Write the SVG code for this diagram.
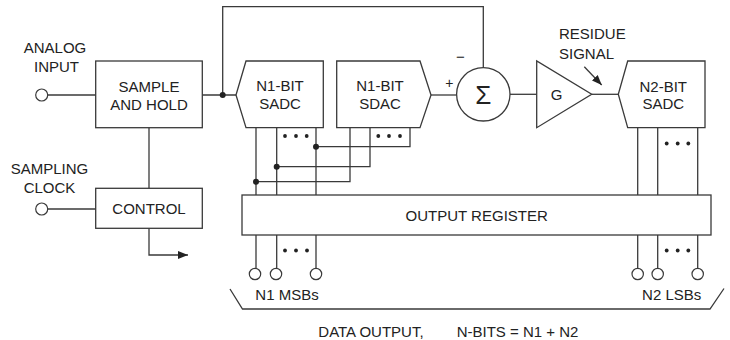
<svg xmlns="http://www.w3.org/2000/svg" width="730" height="340" viewBox="0 0 730 340">
<defs>
<style>
.ln{fill:none;stroke:#3a3a3a;stroke-width:1.3}
.bx{fill:#fff;stroke:#3a3a3a;stroke-width:1.3}
.pin{fill:#fff;stroke:#3a3a3a;stroke-width:1.2}
.jd{fill:#222}
.t{font-family:"Liberation Sans",Arial,sans-serif;font-size:15px;fill:#222;text-anchor:middle}
</style>
<marker id="ah" viewBox="0 0 10 8" refX="10" refY="4" markerWidth="10" markerHeight="8" markerUnits="userSpaceOnUse" orient="auto">
<path d="M0,0 L10,4 L0,8 Z" fill="#222"/>
</marker>
</defs>
<rect width="730" height="340" fill="#fff"/>

<g id="connectors">
<!-- analog input -->
<line class="ln" x1="48" y1="95" x2="96" y2="95"/>
<line class="ln" x1="48" y1="209" x2="96" y2="209"/>
<!-- S&H out -->
<line class="ln" x1="202" y1="95" x2="236" y2="95"/>
<!-- S&H to control -->
<line class="ln" x1="149" y1="128" x2="149" y2="188"/>
<!-- control out arrow -->
<polyline class="ln" points="149,228 149,255 188,255" marker-end="url(#ah)"/>
<!-- feedback -->
<polyline class="ln" points="222.7,95 222.7,6.7 483.3,6.7 483.3,67.6"/>
<!-- SDAC to sum -->
<line class="ln" x1="431" y1="95" x2="456.6" y2="95"/>
<!-- sum to G -->
<line class="ln" x1="510" y1="94.3" x2="536.7" y2="94.3"/>
<!-- G to N2 SADC -->
<line class="ln" x1="591.7" y1="94.3" x2="618.3" y2="94.3"/>
<!-- residue arrow -->
<line class="ln" x1="584.3" y1="66.7" x2="601.7" y2="85" marker-end="url(#ah)"/>
<!-- N1 SADC outputs -->
<line class="ln" x1="256" y1="128" x2="256" y2="195"/>
<line class="ln" x1="276.7" y1="128" x2="276.7" y2="195"/>
<line class="ln" x1="316" y1="128" x2="316" y2="195"/>
<!-- to SDAC -->
<polyline class="ln" points="316,146.7 410,146.7 410,128"/>
<polyline class="ln" points="276.7,166.7 370,166.7 370,128"/>
<polyline class="ln" points="256,181.7 350,181.7 350,128"/>
<!-- N2 SADC outputs -->
<line class="ln" x1="637.7" y1="128" x2="637.7" y2="195"/>
<line class="ln" x1="657.7" y1="128" x2="657.7" y2="195"/>
<line class="ln" x1="697.7" y1="128" x2="697.7" y2="195"/>
<!-- register outputs -->
<line class="ln" x1="256" y1="235" x2="256" y2="268.5"/>
<line class="ln" x1="276.7" y1="235" x2="276.7" y2="268.5"/>
<line class="ln" x1="316" y1="235" x2="316" y2="268.5"/>
<line class="ln" x1="637.7" y1="235" x2="637.7" y2="268.5"/>
<line class="ln" x1="657.7" y1="235" x2="657.7" y2="268.5"/>
<line class="ln" x1="697.7" y1="235" x2="697.7" y2="268.5"/>
<!-- brace -->
<polyline class="ln" points="230,289 242.5,309 710,309 724,288.5"/>
<!-- junction dots -->
<circle class="jd" cx="222.7" cy="95" r="3"/>
<circle class="jd" cx="316" cy="146.7" r="3"/>
<circle class="jd" cx="276.7" cy="166.7" r="3"/>
<circle class="jd" cx="256" cy="181.7" r="3"/>
<!-- ellipsis dots -->
<g class="jd">
<circle cx="285" cy="136" r="1.9"/><circle cx="296" cy="136" r="1.9"/><circle cx="306.7" cy="136" r="1.9"/>
<circle cx="378.3" cy="136" r="1.9"/><circle cx="389" cy="136" r="1.9"/><circle cx="400" cy="136" r="1.9"/>
<circle cx="666.7" cy="143.5" r="1.9"/><circle cx="677.7" cy="143.5" r="1.9"/><circle cx="688.3" cy="143.5" r="1.9"/>
<circle cx="285" cy="250.5" r="1.9"/><circle cx="296" cy="250.5" r="1.9"/><circle cx="307" cy="250.5" r="1.9"/>
<circle cx="666.7" cy="250.5" r="1.9"/><circle cx="677.7" cy="250.5" r="1.9"/><circle cx="688.3" cy="250.5" r="1.9"/>
</g>
</g>

<g id="analog-input">
<circle class="pin" cx="41.7" cy="95" r="6"/>
<text class="t" x="55" y="52.5">ANALOG</text>
<text class="t" x="56.5" y="71.5">INPUT</text>
</g>
<g id="sampling-clock">
<circle class="pin" cx="41.7" cy="209" r="6"/>
<text class="t" x="49.5" y="174">SAMPLING</text>
<text class="t" x="49.5" y="193">CLOCK</text>
</g>
<g id="sample-hold">
<rect class="bx" x="95.7" y="61" width="106.6" height="66.7"/>
<text class="t" x="149" y="91.5">SAMPLE</text>
<text class="t" x="149" y="109.5">AND HOLD</text>
</g>
<g id="control">
<rect class="bx" x="95.7" y="188.3" width="106.6" height="40"/>
<text class="t" x="149" y="214">CONTROL</text>
</g>
<g id="n1-sadc">
<polygon class="bx" points="246,61 323.3,61 323.3,127.7 246,127.7 236,95"/>
<text class="t" x="280" y="91">N1-BIT</text>
<text class="t" x="280" y="109">SADC</text>
</g>
<g id="n1-sdac">
<polygon class="bx" points="336.7,61 420,61 431,95 420,127.7 336.7,127.7"/>
<text class="t" x="380" y="91">N1-BIT</text>
<text class="t" x="380" y="109">SDAC</text>
</g>
<g id="sum">
<circle class="bx" cx="483.3" cy="94.3" r="26.7"/>
<text class="t" x="483.3" y="103.5" style="font-size:26px">Σ</text>
<text class="t" x="449.3" y="87.5" style="font-size:14px">+</text>
<text class="t" x="460.5" y="61.5" style="font-size:15px">−</text>
</g>
<g id="gain">
<polygon class="bx" points="536.7,61 536.7,127.7 591.7,94.3"/>
<text class="t" x="556.7" y="100">G</text>
</g>
<g id="residue-label">
<text class="t" x="559" y="39.3" style="text-anchor:start">RESIDUE</text>
<text class="t" x="559" y="59.3" style="text-anchor:start">SIGNAL</text>
</g>
<g id="n2-sadc">
<polygon class="bx" points="627.7,61 705,61 705,127.7 627.7,127.7 618.3,94.3"/>
<text class="t" x="663.3" y="91.5">N2-BIT</text>
<text class="t" x="663.3" y="109">SADC</text>
</g>
<g id="output-register">
<rect class="bx" x="242" y="195" width="469" height="40"/>
<text class="t" x="476.7" y="221">OUTPUT REGISTER</text>
</g>
<g id="output-pins">
<circle class="pin" cx="255" cy="274" r="5.7"/>
<circle class="pin" cx="276" cy="274" r="5.7"/>
<circle class="pin" cx="316" cy="274" r="5.7"/>
<circle class="pin" cx="637.7" cy="274" r="5.7"/>
<circle class="pin" cx="657.7" cy="274" r="5.7"/>
<circle class="pin" cx="697.7" cy="274" r="5.7"/>
<text class="t" x="287" y="300">N1 MSBs</text>
<text class="t" x="671.7" y="300">N2 LSBs</text>
</g>
<g id="data-output">
<text class="t" x="318.3" y="336.5" style="text-anchor:start">DATA OUTPUT,</text>
<text class="t" x="456.7" y="336.5" style="text-anchor:start">N-BITS = N1 + N2</text>
</g>
</svg>
